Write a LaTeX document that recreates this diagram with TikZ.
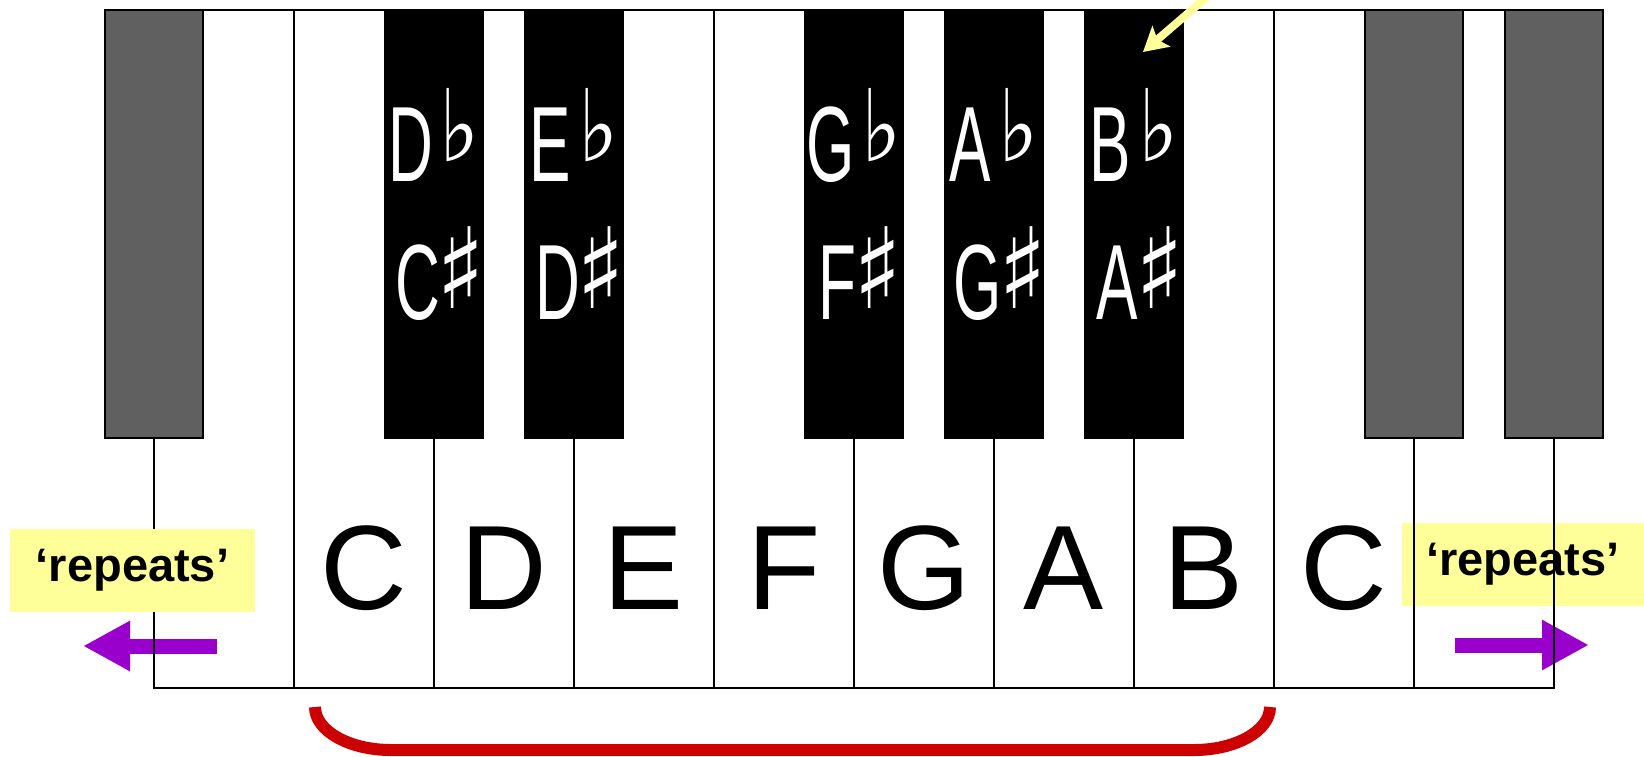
\documentclass[tikz,border=0pt]{standalone}
\usepackage{fontspec}
\usepackage{graphicx}
\setmainfont{Liberation Sans}
\newfontfamily\narrowsans[FakeStretch=0.58]{Liberation Sans}
\newfontfamily\flatfont[FakeStretch=0.85]{DejaVu Sans}
\newfontfamily\sharpfont[FakeStretch=0.9]{DejaVu Sans}
\usetikzlibrary{arrows.meta}
\definecolor{KGray}{HTML}{606060}
\definecolor{KYellow}{HTML}{FFFF99}
\definecolor{KPurple}{HTML}{9900CC}
\definecolor{KRed}{HTML}{CC0000}
\newcommand{\accflat}{\kern7pt\raisebox{20pt}{\flatfont\fontsize{100}{100}\selectfont ♭}}
\newcommand{\accsharp}{\kern-3pt\rlap{\raisebox{11pt}{\sharpfont\bfseries\fontsize{112}{112}\selectfont ♯}}\kern36pt}

\begin{document}
\begin{tikzpicture}[x=1pt,y=-1pt,
  whitekey/.style={draw=black,line width=1.8pt,minimum width=140pt,
    minimum height=678pt,inner sep=0pt,outer sep=0pt},
  blackkey/.style={draw=black,fill=black,line width=2.5pt,minimum width=98pt,
    minimum height=428pt,inner sep=0pt,outer sep=0pt},
  greykey/.style={blackkey,fill=KGray},
  keyname/.style={font=\fontsize{120}{120}\selectfont,anchor=base,inner sep=0pt},
  accname/.style={font=\narrowsans\fontsize{107}{107}\selectfont,text=white,
    anchor=base,inner sep=0pt},
  repeats/.style={fill=KYellow,font=\bfseries\fontsize{47}{47}\selectfont,
    minimum height=83pt,inner sep=0pt},
  dirarrow/.style={KPurple,line width=15pt,-{Triangle[length=47pt,width=47pt]}},
  hint/.style={KYellow,line width=8pt,-{Stealth[length=24pt,width=27pt,inset=5pt]}},
  brace/.style={KRed,line width=12pt}
]
  \clip (0,0) rectangle (1644,756);
  \useasboundingbox (0,0) rectangle (1644,756);
  % right label sits under the key outlines
  \node[repeats,minimum width=242pt] (repR) at (1523,564) {‘repeats’};
  \coordinate (lArrS) at (217,646);
  \coordinate (lArrE) at (83,646);
  \coordinate (rArrS) at (1455,645);
  \coordinate (rArrE) at (1589,645);
  \draw[dirarrow] (lArrS) -- (lArrE);
  \draw[dirarrow] (rArrS) -- (rArrE);
  % white keys
  \foreach \i/\k in {0/wB0,1/wC,2/wD,3/wE,4/wF,5/wG,6/wA,7/wB,8/wC2,9/wD2}
    \node[whitekey] (\k) at ({224+140*\i},349) {};
  \foreach \k/\n in {wC/C,wD/D,wE/E,wF/F,wG/G,wA/A,wB/B,wC2/C}
    \node[keyname] (\k-txt) at (\k |- 0,609) {\n};
  % black keys
  \foreach \x/\k in {154/gA,1414/gC,1554/gD}
    \node[greykey] (\k) at (\x,224) {};
  \foreach \x/\k/\up/\dn in {434/bD/D/C,574/bE/E/D,854/bG/G/F,994/bA/A/G,1134/bB/B/A}{
    \node[blackkey] (\k) at (\x,224) {};
    \node[accname] (\k-fl) at (\x,181) {\up\accflat};
    \node[accname] (\k-sh) at (\x,319) {\dn\accsharp};
  }
  \node[repeats,minimum width=245pt] (repL) at (132.5,570.5) {‘repeats’};
  \coordinate (hintS) at (1215,-10);
  \coordinate (hintE) at (1143,52);
  \draw[hint] (hintS) -- (hintE);
  \coordinate (braceL) at (315,707);
  \draw[brace] (braceL) arc[start angle=180,end angle=270,x radius=76pt,y radius=43pt]
    -- ++(803,0) arc[start angle=270,end angle=360,x radius=76pt,y radius=43pt];
\end{tikzpicture}
\end{document}
